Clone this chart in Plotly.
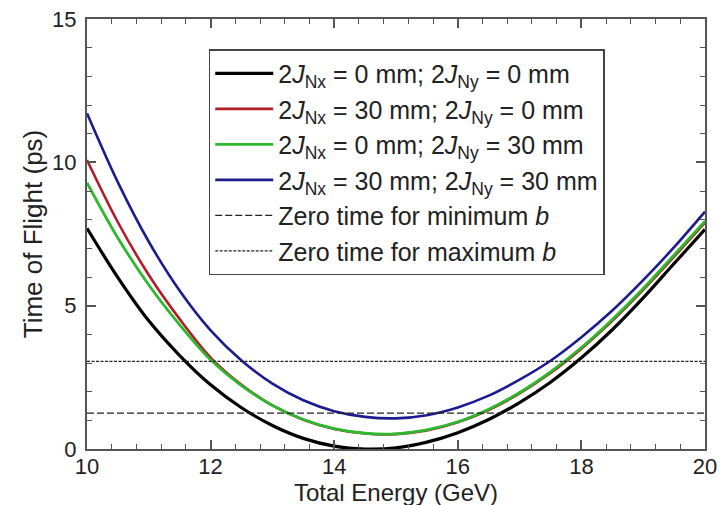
import plotly.graph_objects as go

energy = [10.0, 10.5, 11.0, 11.5, 12.0, 12.5, 13.0, 13.5, 14.0, 14.5, 15.0,
          15.5, 16.0, 16.5, 17.0, 17.5, 18.0, 18.5, 19.0, 19.5, 20.0]

tof_black = [7.70, 5.98, 4.47, 3.26, 2.24, 1.44, 0.82, 0.37, 0.10, 0.00, 0.04,
             0.24, 0.57, 1.03, 1.62, 2.33, 3.18, 4.16, 5.27, 6.47, 7.66]
tof_red = [10.08, 7.91, 6.07, 4.53, 3.19, 2.24, 1.52, 1.02, 0.70, 0.54, 0.52,
           0.65, 0.93, 1.36, 1.94, 2.65, 3.50, 4.47, 5.55, 6.71, 7.90]
tof_green = [9.29, 7.36, 5.72, 4.33, 3.11, 2.21, 1.52, 1.03, 0.71, 0.55, 0.53,
             0.67, 0.95, 1.39, 1.97, 2.69, 3.54, 4.52, 5.60, 6.77, 7.95]
tof_blue = [11.71, 9.30, 7.23, 5.52, 4.14, 3.09, 2.28, 1.70, 1.32, 1.12, 1.07,
            1.18, 1.45, 1.86, 2.42, 3.08, 3.90, 4.83, 5.89, 7.04, 8.28]

zero_min_b = 1.25
zero_max_b = 3.06

labels = [
    "2<i>J</i><sub>Nx</sub> = 0 mm; 2<i>J</i><sub>Ny</sub> = 0 mm",
    "2<i>J</i><sub>Nx</sub> = 30 mm; 2<i>J</i><sub>Ny</sub> = 0 mm",
    "2<i>J</i><sub>Nx</sub> = 0 mm; 2<i>J</i><sub>Ny</sub> = 30 mm",
    "2<i>J</i><sub>Nx</sub> = 30 mm; 2<i>J</i><sub>Ny</sub> = 30 mm",
    "Zero time for minimum <i>b</i>",
    "Zero time for maximum <i>b</i>",
]
x_title = "Total Energy (GeV)"
y_title = "Time of Flight (ps)"

FONT = "Liberation Sans, Arial, Helvetica"
TXT = "#222222"
AX = "#555555"

fig = go.Figure()
series = [(tof_black, "#000000", 3.2), (tof_red, "#b01e28", 2.6),
          (tof_green, "#2db82d", 2.8), (tof_blue, "#1c1c8e", 2.6)]
for (vals, col, w), lab in zip(series, labels[:4]):
    fig.add_trace(go.Scatter(x=energy, y=vals, mode="lines", name=lab,
                             line=dict(color=col, width=w, shape="spline", smoothing=1.0)))

fig.add_trace(go.Scatter(x=[energy[0], energy[-1]], y=[zero_min_b, zero_min_b],
                         mode="lines", name=labels[4],
                         line=dict(color="#222222", width=1.2, dash="7px,3px")))
fig.add_trace(go.Scatter(x=[energy[0], energy[-1]], y=[zero_max_b, zero_max_b],
                         mode="lines", name=labels[5],
                         line=dict(color="#222222", width=1.2, dash="3px,1.5px")))

axis_common = dict(showline=True, linecolor=AX, linewidth=2, mirror="ticks",
                   ticks="inside", tickcolor=AX, tickwidth=1.5, ticklen=9,
                   showgrid=False, zeroline=False, automargin=False,
                   tickfont=dict(family=FONT, size=22, color=TXT))

fig.update_xaxes(range=[10, 20], dtick=2, tick0=10, ticklabelstandoff=-3,
                 minor=dict(dtick=0.4, ticks="inside", ticklen=5, tickcolor=AX, tickwidth=1.2),
                 **axis_common)
fig.update_yaxes(range=[0, 15], dtick=5, tick0=0, ticklabelstandoff=4,
                 minor=dict(dtick=1, ticks="inside", ticklen=5, tickcolor=AX, tickwidth=1.2),
                 title=dict(text=y_title, standoff=2,
                            font=dict(family=FONT, size=26, color=TXT)),
                 **axis_common)

fig.add_annotation(text=x_title, xref="paper", yref="paper", x=0.5, y=-0.1,
                   xanchor="center", yanchor="middle", showarrow=False,
                   font=dict(family=FONT, size=24, color=TXT))

fig.update_layout(
    width=724, height=505,
    margin=dict(l=87, r=19, t=19, b=56),
    paper_bgcolor="white", plot_bgcolor="white",
    showlegend=True,
    legend=dict(x=0.197, y=0.93, xanchor="left", yanchor="top",
                bgcolor="white", bordercolor="#444444", borderwidth=1.5,
                font=dict(family=FONT, size=25, color=TXT),
                tracegroupgap=0, itemwidth=58),
)

fig.write_html("out.html")
